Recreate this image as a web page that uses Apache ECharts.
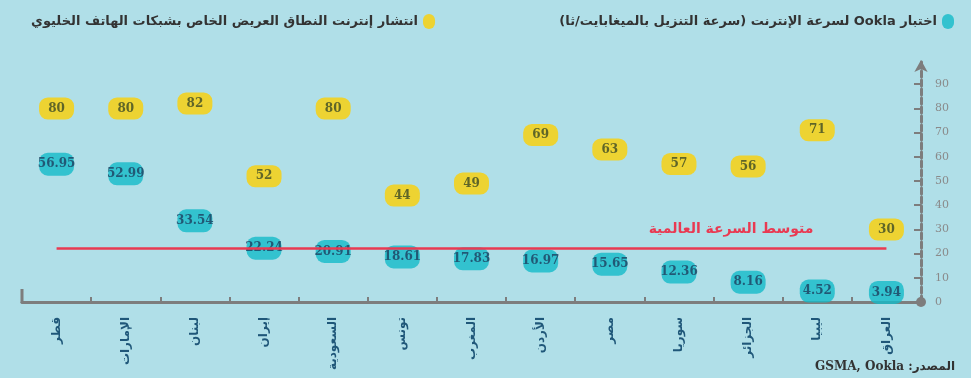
<!DOCTYPE html>
<html>
<head>
<meta charset="utf-8">
<script src="https://cdn.jsdelivr.net/npm/echarts@6/dist/echarts.min.js"></script>
<style>
  html, body { margin: 0; padding: 0; background: #b0dfe8; }
  #chart { width: 971px; height: 378px; }
</style>
</head>
<body>
<div id="chart" dir="rtl"></div>
<script>
// Countries, left to right
const categories = ['قطر', 'الإمارات', 'لبنان', 'إيران', 'السعودية', 'تونس', 'المغرب', 'الأردن', 'مصر', 'سوريا', 'الجزائر', 'ليبيا', 'العراق'];
// Ookla download speed (Mbps)
const downloadSpeed = [56.95, 52.99, 33.54, 22.24, 20.91, 18.61, 17.83, 16.97, 15.65, 12.36, 8.16, 4.52, 3.94];
// Mobile broadband penetration (%)
const broadbandShare = [80, 80, 82, 52, 80, 44, 49, 69, 63, 57, 56, 71, 30];
// Global average speed
const globalAverage = 22.4;
// Value-axis tick labels
const yTicks = [0, 10, 20, 30, 40, 50, 60, 70, 80, 90];

const speedName = 'اختبار Ookla لسرعة الإنترنت (سرعة التنزيل بالميغابايت/ثا)';
const shareName = 'انتشار إنترنت النطاق العريض الخاص بشبكات الهاتف الخليوي';
const avgLabel = 'متوسط السرعة العالمية';

// rounded pill used for the markers, and a taller blob for the legend keys
const pill = 'path://M9,0 H27 A9,9 0 0 1 36,9 V14 A9,9 0 0 1 27,23 H9 A9,9 0 0 1 0,14 V9 A9,9 0 0 1 9,0 Z';
const blob = 'path://M6,0 A6,6 0 0 1 12,6 V9 A6,6 0 0 1 6,15 A6,6 0 0 1 0,9 V6 A6,6 0 0 1 6,0 Z';
const teal = '#14bac8';
const yellow = '#fdd004';

const chart = echarts.init(document.getElementById('chart'), null, { renderer: 'canvas' });

const legendText = { fontFamily: 'DejaVu Sans', fontWeight: 'bold', fontSize: 13, color: '#333' };

chart.setOption({
  backgroundColor: '#b0dfe8',
  animation: false,
  legend: [
    {
      data: [speedName],
      right: 12, top: 9,
      align: 'right',
      icon: blob,
      itemWidth: 12, itemHeight: 15, itemGap: 8,
      textStyle: legendText
    },
    {
      data: [shareName],
      left: 26, top: 9,
      align: 'right',
      icon: blob,
      itemWidth: 12, itemHeight: 15, itemGap: 8,
      textStyle: legendText
    }
  ],
  grid: { left: 22, right: 50, top: 60, bottom: 76, containLabel: false },
  xAxis: {
    type: 'category',
    data: categories,
    boundaryGap: true,
    axisLine: { lineStyle: { color: '#7d7d7d', width: 3 } },
    axisTick: { show: true, inside: true, length: 5, alignWithLabel: false, lineStyle: { color: '#7d7d7d', width: 2 } },
    axisLabel: {
      rotate: 90,
      margin: 15,
      fontFamily: 'DejaVu Sans',
      fontWeight: 'bold',
      fontSize: 12,
      color: '#1f5779'
    },
    splitLine: { show: false }
  },
  yAxis: {
    type: 'value',
    position: 'right',
    min: 0,
    max: 100,
    interval: 10,
    axisLine: {
      show: true,
      symbol: ['circle', 'arrow'],
      symbolSize: [10, 12],
      lineStyle: { color: '#7d7d7d', width: 3, type: [6, 3] }
    },
    axisTick: {
      show: true, inside: true, length: 7,
      customValues: yTicks,
      lineStyle: { color: '#7d7d7d', width: 2 }
    },
    axisLabel: {
      customValues: yTicks,
      margin: 14,
      fontFamily: 'DejaVu Serif',
      fontSize: 11,
      color: '#8a8a8a'
    },
    splitLine: { show: false }
  },
  series: [
    {
      name: shareName,
      type: 'scatter',
      z: 2,
      data: broadbandShare,
      symbol: pill,
      symbolSize: [35, 22],
      itemStyle: { color: yellow },
      label: {
        show: true, position: 'inside',
        fontFamily: 'DejaVu Serif', fontWeight: 'bold', fontSize: 12,
        color: '#3b4a26'
      },
      markLine: {
        silent: true,
        symbol: 'none',
        lineStyle: { color: '#e93a52', width: 2.5, type: 'solid' },
        label: {
          show: true,
          position: 'insideEndTop',
          distance: [73, 11],
          formatter: avgLabel,
          fontFamily: 'DejaVu Sans',
          fontWeight: 'bold',
          fontSize: 14,
          color: '#e93a52'
        },
        data: [[
          { coord: [0, globalAverage] },
          { coord: [categories.length - 1, globalAverage] }
        ]]
      }
    },
    {
      name: speedName,
      type: 'scatter',
      z: 3,
      data: downloadSpeed,
      symbol: pill,
      symbolSize: [35, 23],
      itemStyle: { color: teal },
      label: {
        show: true, position: 'inside',
        fontFamily: 'DejaVu Serif', fontWeight: 'bold', fontSize: 12,
        color: '#1d3d5e'
      }
    }
  ],
  graphic: [
    {
      // tall end tick at the left of the category axis
      type: 'line',
      shape: { x1: 22, y1: 289, x2: 22, y2: 303 },
      style: { stroke: '#7d7d7d', lineWidth: 3 }
    },
    {
      type: 'text',
      right: 16, bottom: 5,
      style: {
        text: 'المصدر: GSMA, Ookla',
        font: 'bold 12px "DejaVu Serif", "DejaVu Sans"',
        fill: '#333'
      }
    }
  ]
});
</script>
</body>
</html>
